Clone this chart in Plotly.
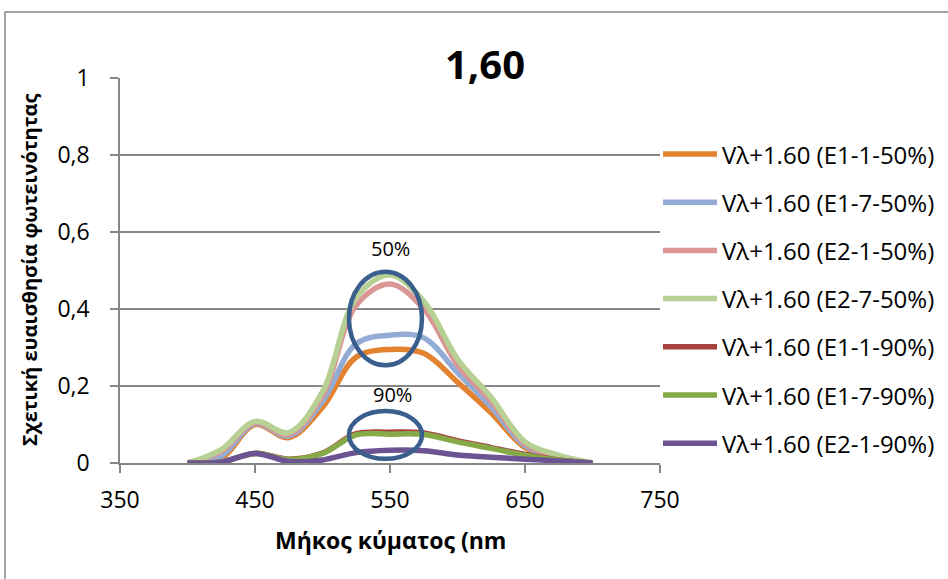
import plotly.graph_objects as go

# Wavelength samples (nm)
wavelength = [400, 425, 450, 475, 500, 525, 550, 575, 600, 625, 650, 675, 700]

# Relative luminous sensitivity per filter configuration
e1_1_50 = [0, 0.012, 0.100, 0.066, 0.145, 0.275, 0.295, 0.285, 0.210, 0.130, 0.040, 0.010, 0]
e1_7_50 = [0, 0.018, 0.103, 0.070, 0.160, 0.310, 0.332, 0.325, 0.235, 0.145, 0.045, 0.012, 0]
e2_1_50 = [0, 0.030, 0.105, 0.074, 0.175, 0.410, 0.465, 0.400, 0.255, 0.160, 0.050, 0.015, 0]
e2_7_50 = [0, 0.035, 0.108, 0.079, 0.185, 0.430, 0.488, 0.420, 0.270, 0.170, 0.055, 0.020, 0]
e1_1_90 = [0, 0.003, 0.025, 0.010, 0.026, 0.076, 0.080, 0.078, 0.058, 0.040, 0.022, 0.008, 0]
e1_7_90 = [0, 0.003, 0.025, 0.009, 0.025, 0.073, 0.075, 0.074, 0.055, 0.038, 0.020, 0.007, 0]
e2_1_90 = [0, 0.002, 0.025, 0.004, 0.008, 0.027, 0.033, 0.032, 0.021, 0.015, 0.010, 0.005, 0]

series_names = [
    "Vλ+1.60 (E1-1-50%)",
    "Vλ+1.60 (E1-7-50%)",
    "Vλ+1.60 (E2-1-50%)",
    "Vλ+1.60 (E2-7-50%)",
    "Vλ+1.60 (E1-1-90%)",
    "Vλ+1.60 (E1-7-90%)",
    "Vλ+1.60 (E2-1-90%)",
]
series_values = [e1_1_50, e1_7_50, e2_1_50, e2_7_50, e1_1_90, e1_7_90, e2_1_90]
series_colors = ["#E3832F", "#92ACD6", "#D99694", "#B7D093", "#A8423F", "#86AA48", "#6C5393"]

x_ticks = [350, 450, 550, 650, 750]
y_ticks = [0, 0.2, 0.4, 0.6, 0.8, 1.0]

FONT = "Open Sans"
GRAY = "#868686"
RING = "#3A5F8C"

fig = go.Figure()
for name, vals, col in zip(series_names, series_values, series_colors):
    fig.add_trace(go.Scatter(
        x=wavelength, y=vals, name=name, mode="lines",
        line=dict(color=col, width=5.5, shape="spline", smoothing=1.0),
        cliponaxis=False, showlegend=False,
    ))

shapes = []
annotations = []

# Rings marking the peak regions of the 50% and 90% groups
shapes.append(dict(type="circle", xref="x", yref="y", x0=519.6, x1=573.7, y0=0.254, y1=0.497,
                   line=dict(color=RING, width=4.5)))
shapes.append(dict(type="circle", xref="x", yref="y", x0=519.6, x1=573.7, y0=0.011, y1=0.135,
                   line=dict(color=RING, width=4.5)))

annotations.append(dict(x=550.5, y=0.558, xref="x", yref="y", text="50%", showarrow=False,
                        xanchor="center", yanchor="middle",
                        font=dict(family=FONT, size=20, color="black")))
annotations.append(dict(x=552, y=0.177, xref="x", yref="y", text="90%", showarrow=False,
                        xanchor="center", yanchor="middle",
                        font=dict(family=FONT, size=20, color="black")))

# Legend built by hand: coloured stroke + label per series
PW, PH, L, T = 540.0, 385.0, 120.0, 78.0
def px_x(p):
    return (p - L) / PW
def px_y(p):
    return (T + PH - p) / PH

for i, (name, col) in enumerate(zip(series_names, series_colors)):
    yp = 154 + i * 48.2
    shapes.append(dict(type="line", xref="paper", yref="paper",
                       x0=px_x(663), x1=px_x(717), y0=px_y(yp), y1=px_y(yp),
                       line=dict(color=col, width=5.5)))
    annotations.append(dict(x=px_x(720), y=px_y(yp), xref="paper", yref="paper", text=name,
                            showarrow=False, xanchor="left", yanchor="middle",
                            font=dict(family=FONT, size=24, color="black")))

# Outer chart frame
shapes.append(dict(type="rect", xref="paper", yref="paper",
                   x0=px_x(5), x1=px_x(990), y0=px_y(620), y1=px_y(12),
                   line=dict(color=GRAY, width=1.5), layer="below"))

# Titles
annotations.append(dict(x=px_x(485), y=px_y(63), xref="paper", yref="paper", text="<b>1,60</b>",
                        showarrow=False, xanchor="center", yanchor="middle",
                        font=dict(family=FONT, size=40, color="black")))
annotations.append(dict(x=px_x(390), y=px_y(540), xref="paper", yref="paper",
                        text="<b>Μήκος κύματος (nm</b>", showarrow=False,
                        xanchor="center", yanchor="middle",
                        font=dict(family=FONT, size=23, color="black")))
annotations.append(dict(x=px_x(29), y=px_y(270), xref="paper", yref="paper",
                        text="<b>Σχετική ευαισθησία φωτεινότητας</b>", showarrow=False, textangle=-90,
                        xanchor="center", yanchor="middle",
                        font=dict(family=FONT, size=20, color="black")))

fig.update_layout(
    width=948, height=579,
    margin=dict(l=120, r=288, t=78, b=116),
    paper_bgcolor="white", plot_bgcolor="white",
    separators=",.",
    showlegend=False,
    shapes=shapes, annotations=annotations,
    font=dict(family=FONT, size=23, color="black"),
    xaxis=dict(range=[350, 750], tickvals=x_ticks, ticks="outside", ticklen=8, tickwidth=1.5,
               tickcolor=GRAY, showline=True, linecolor=GRAY, linewidth=1.5, ticklabelstandoff=8,
               showgrid=False, zeroline=False, tickfont=dict(family=FONT, size=23, color="black")),
    yaxis=dict(range=[0, 1], tickvals=y_ticks, ticks="outside", ticklen=8, tickwidth=1.5,
               tickcolor=GRAY, showline=True, linecolor=GRAY, linewidth=1.5, ticklabelstandoff=16,
               showgrid=True, gridcolor=GRAY, gridwidth=1.5, zeroline=False,
               tickfont=dict(family=FONT, size=23, color="black")),
)

fig.write_html("out.html")
